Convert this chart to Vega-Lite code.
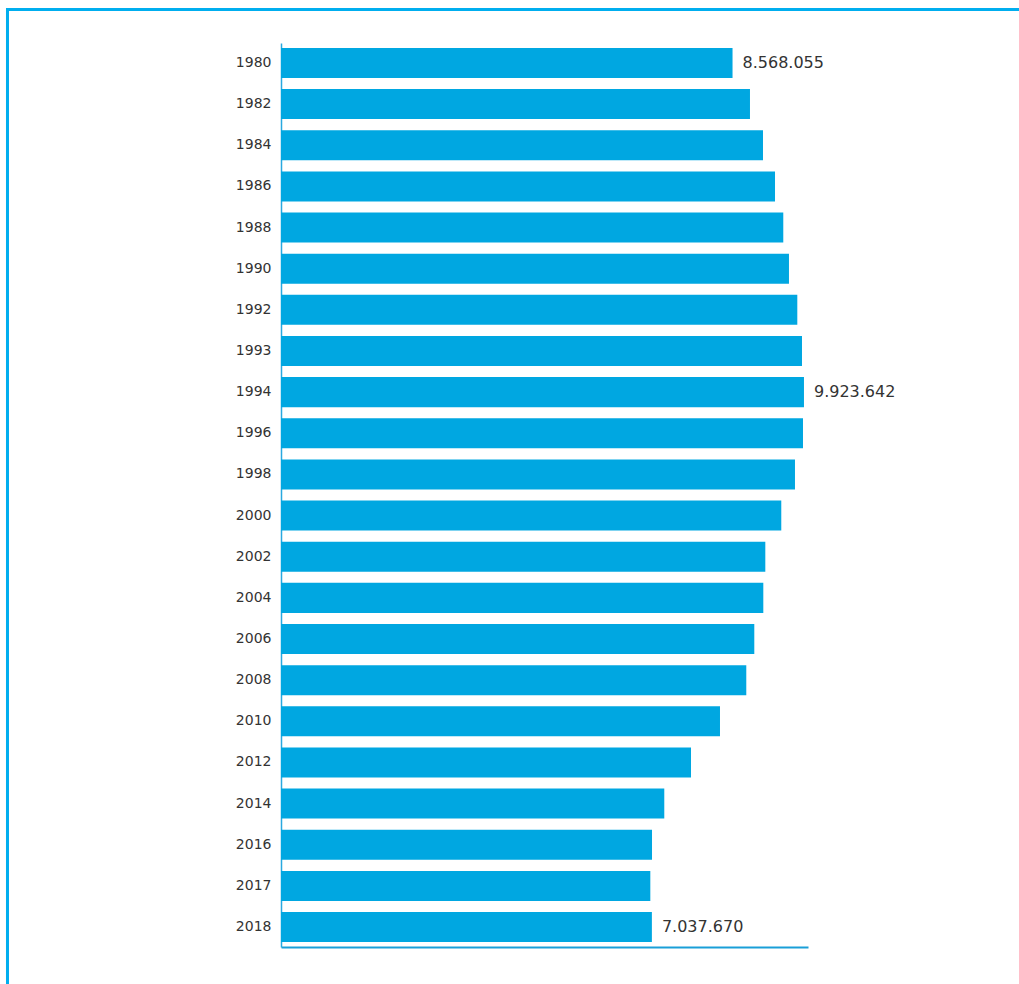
{
  "$schema": "https://vega.github.io/schema/vega-lite/v6.json",
  "width": 527,
  "height": 904,
  "autosize": {"type": "none"},
  "padding": {"left": 281, "top": 43, "right": 211, "bottom": 37},
  "background": "white",
  "config": {
    "view": {"stroke": null},
    "font": "DejaVu Sans",
    "locale": {"number": {"decimal": ",", "thousands": ".", "grouping": [3], "currency": ["", " €"]}}
  },
  "layer": [
    {
      "data": {"values": [{"frame": "box"}]},
      "mark": {"type": "rect", "filled": false, "stroke": "#00aeef", "strokeWidth": 3, "clip": false},
      "encoding": {
        "x": {"datum": -0.519, "type": "quantitative", "scale": {"domain": [0, 1], "nice": false, "zero": false}, "axis": null},
        "x2": {"datum": 1.5},
        "y": {"datum": -0.1, "type": "quantitative", "scale": {"domain": [0, 1], "nice": false, "zero": false}, "axis": null},
        "y2": {"datum": 1.0371}
      }
    },
    {
      "data": {
        "values": [
          {"year": "1980", "value": 8568055},
          {"year": "1982", "value": 8899000},
          {"year": "1984", "value": 9146000},
          {"year": "1986", "value": 9374000},
          {"year": "1988", "value": 9531000},
          {"year": "1990", "value": 9639000},
          {"year": "1992", "value": 9797000},
          {"year": "1993", "value": 9886000},
          {"year": "1994", "value": 9923642},
          {"year": "1996", "value": 9905000},
          {"year": "1998", "value": 9753000},
          {"year": "2000", "value": 9493000},
          {"year": "2002", "value": 9190000},
          {"year": "2004", "value": 9152000},
          {"year": "2006", "value": 8981000},
          {"year": "2008", "value": 8829000},
          {"year": "2010", "value": 8330000},
          {"year": "2012", "value": 7780000},
          {"year": "2014", "value": 7273000},
          {"year": "2016", "value": 7040000},
          {"year": "2017", "value": 7008000},
          {"year": "2018", "value": 7037670}
        ]
      },
      "encoding": {
        "y": {
          "field": "year",
          "type": "nominal",
          "sort": null,
          "scale": {
            "domain": ["1980", "1982", "1984", "1986", "1988", "1990", "1992", "1993", "1994", "1996", "1998", "2000", "2002", "2004", "2006", "2008", "2010", "2012", "2014", "2016", "2017", "2018"],
            "paddingInner": 0.27,
            "paddingOuter": 0.12
          },
          "axis": {
            "title": null,
            "domainColor": "#29a9e0",
            "domainWidth": 1.5,
            "ticks": false,
            "labelPadding": 10,
            "labelFont": "DejaVu Sans",
            "labelFontSize": 14,
            "labelColor": "#333333"
          }
        },
        "x": {
          "field": "value",
          "type": "quantitative",
          "scale": {"domain": [0, 10000000], "nice": false},
          "axis": {
            "title": null,
            "labels": false,
            "ticks": false,
            "grid": false,
            "domainColor": "#1a9fd8",
            "domainWidth": 2
          }
        }
      },
      "layer": [
        {"mark": {"type": "bar", "color": "#00a7e1"}},
        {
          "transform": [{"filter": {"field": "year", "oneOf": ["1980", "1994", "2018"]}}],
          "mark": {"type": "text", "align": "left", "baseline": "middle", "dx": 10, "fontSize": 16, "color": "#333333", "font": "DejaVu Sans"},
          "encoding": {"text": {"field": "value", "type": "quantitative", "format": ",d"}}
        }
      ]
    }
  ],
  "resolve": {"scale": {"x": "independent", "y": "independent"}, "axis": {"x": "independent", "y": "independent"}}
}
